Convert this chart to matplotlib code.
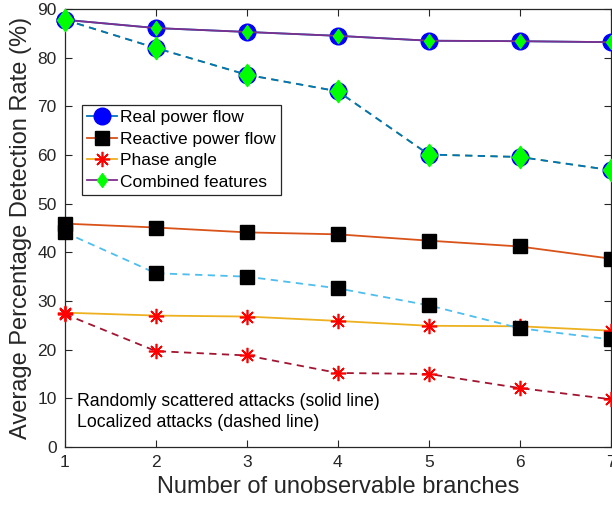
import matplotlib
matplotlib.use("Agg")
import matplotlib.pyplot as plt
from matplotlib.path import Path

plt.rcParams['font.family'] = ['Liberation Sans', 'DejaVu Sans']

branches = [1, 2, 3, 4, 5, 6, 7]

# Randomly scattered attacks (solid lines)
real_rand = [87.8, 86.1, 85.3, 84.5, 83.5, 83.4, 83.2]
reactive_rand = [45.9, 45.1, 44.1, 43.7, 42.4, 41.2, 38.7]
phase_rand = [27.6, 27.0, 26.8, 25.9, 24.9, 24.8, 23.9]
combined_rand = [87.8, 86.1, 85.3, 84.5, 83.5, 83.4, 83.2]

# Localized attacks (dashed lines)
real_loc = [87.8, 82.0, 76.5, 73.1, 60.1, 59.6, 56.9]
reactive_loc = [44.1, 35.7, 35.0, 32.6, 29.1, 24.4, 22.1]
phase_loc = [27.3, 19.7, 18.8, 15.2, 15.0, 12.1, 9.8]
combined_loc = [87.8, 82.0, 76.5, 73.1, 60.1, 59.6, 56.9]

labels = ['Real power flow', 'Reactive power flow', 'Phase angle', 'Combined features']
xticks = [1, 2, 3, 4, 5, 6, 7]
yticks = [0, 10, 20, 30, 40, 50, 60, 70, 80, 90]

C_BLUE = '#0072BD'
C_ORANGE = '#D95319'
C_YELLOW = '#EDB120'
C_PURPLE = '#7E2F8E'
C_GREEN = '#77AC30'
C_LBLUE = '#4DBEEE'
C_DRED = '#A2142F'
AX = '#262626'

diamond = Path([(0, 1), (0.72, 0), (0, -1), (-0.72, 0), (0, 1)],
               [Path.MOVETO, Path.LINETO, Path.LINETO, Path.LINETO, Path.CLOSEPOLY])
aster = (8, 2, 0)

fig = plt.figure(figsize=(6.12, 5.05), dpi=100)
ax = fig.add_axes([0.106, 0.115, 0.892, 0.867])

lw = 1.3
h1, = ax.plot(branches, real_rand, '-', color=C_BLUE, lw=lw, marker='o', ms=12,
              mfc='#0000FF', mec='#0000FF', clip_on=False, zorder=3)
h2, = ax.plot(branches, reactive_rand, '-', color=C_ORANGE, lw=lw, marker='s', ms=9.5,
              mfc='k', mec='k', clip_on=False, zorder=3)
h3, = ax.plot(branches, phase_rand, '-', color=C_YELLOW, lw=lw, marker=aster, ms=11,
              mfc='#FF0000', mec='#FF0000', mew=1.2, clip_on=False, zorder=3)
h4, = ax.plot(branches, combined_rand, '-', color=C_PURPLE, lw=lw, marker=diamond, ms=10,
              mfc='#00FF00', mec='#00FF00', clip_on=False, zorder=3)

ax.plot(branches, real_loc, '--', color=C_GREEN, lw=lw, marker='o', ms=12,
        mfc='#0000FF', mec='#0000FF', clip_on=False, zorder=3, dashes=(4, 3))
ax.plot(branches, reactive_loc, '--', color=C_LBLUE, lw=lw, marker='s', ms=9.5,
        mfc='k', mec='k', clip_on=False, zorder=3, dashes=(4, 3))
ax.plot(branches, phase_loc, '--', color=C_DRED, lw=lw, marker=aster, ms=11,
        mfc='#FF0000', mec='#FF0000', mew=1.2, clip_on=False, zorder=3, dashes=(4, 3))
ax.plot(branches, combined_loc, '--', color=C_BLUE, lw=lw, marker=diamond, ms=16,
        mfc='#00FF00', mec='#00FF00', clip_on=False, zorder=3, dashes=(4, 3))

ax.set_xlim(1, 7)
ax.set_ylim(0, 90)
ax.set_xticks(xticks)
ax.set_yticks(yticks)
ax.tick_params(direction='in', length=5, width=0.8, colors=AX, labelsize=12.5,
               top=True, right=True, pad=6)
for s in ax.spines.values():
    s.set_color(AX)
    s.set_linewidth(0.9)

ax.set_xlabel('Number of unobservable branches', fontsize=17, color=AX, labelpad=4)
ax.set_ylabel('Average Percentage Detection Rate (%)', fontsize=17, color=AX, labelpad=4)

leg = ax.legend([h1, h2, h3, h4], labels, loc='upper left',
                bbox_to_anchor=(0.031, 0.781), borderaxespad=0, fontsize=12.5,
                fancybox=False, framealpha=1, edgecolor='#262626',
                handlelength=1.7, handletextpad=0.2, labelspacing=0.36,
                borderpad=0.3)
leg.get_frame().set_linewidth(0.9)

ax.text(0.022, 0.103, 'Randomly scattered attacks (solid line)', transform=ax.transAxes,
        fontsize=12.7, va='center', ha='left', color='k')
ax.text(0.022, 0.055, 'Localized attacks (dashed line)', transform=ax.transAxes,
        fontsize=12.7, va='center', ha='left', color='k')

fig.savefig('out.png', dpi=100)
